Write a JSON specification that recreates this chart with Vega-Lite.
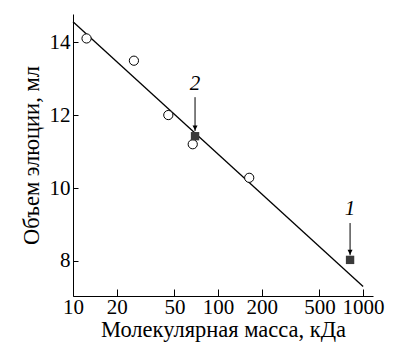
{
  "$schema": "https://vega.github.io/schema/vega-lite/v6.json",
  "width": 300,
  "height": 282,
  "autosize": "none",
  "padding": {"left": 73, "top": 14, "right": 28, "bottom": 55},
  "background": "white",
  "config": {
    "view": {"stroke": null},
    "font": "Liberation Serif",
    "axis": {"domainColor": "black", "tickColor": "black", "labelColor": "black", "titleColor": "black", "grid": false, "labelFont": "Liberation Serif", "titleFont": "Liberation Serif", "titleFontWeight": "normal", "labelFontSize": 21, "titleFontSize": 22.5}
  },
  "datasets": {
    "circles": [
      {"mass": 12.4, "volume": 14.1},
      {"mass": 26.3, "volume": 13.49},
      {"mass": 45.4, "volume": 12.0},
      {"mass": 66.9, "volume": 11.2},
      {"mass": 164, "volume": 10.28}
    ],
    "squares": [
      {"mass": 69.4, "volume": 11.42, "label": "2"},
      {"mass": 813, "volume": 8.03, "label": "1"}
    ],
    "fit": [
      {"mass": 10, "volume": 14.56},
      {"mass": 1000, "volume": 7.3}
    ],
    "arrows": [
      {"mass": 69.4, "top": 12.49, "tip": 11.56, "labelY": 12.84, "label": "2"},
      {"mass": 813, "top": 9.04, "tip": 8.16, "labelY": 9.42, "label": "1"}
    ]
  },
  "layer": [
    {
      "data": {"name": "fit"},
      "mark": {"type": "line", "color": "black", "strokeWidth": 1.3},
      "encoding": {
        "x": {"field": "mass", "type": "quantitative", "scale": {"type": "log", "domain": [10, 1170], "nice": false},
          "axis": {"title": "Молекулярная масса, кДа", "values": [10, 20, 50, 100, 200, 500, 1000], "format": "d", "tickSize": -7, "labelPadding": 7, "titlePadding": 1, "labelFlush": false}},
        "y": {"field": "volume", "type": "quantitative", "scale": {"domain": [7.04, 14.77], "nice": false, "zero": false},
          "axis": {"title": "Объем элюции, мл", "values": [8, 10, 12, 14], "tickSize": -5, "labelPadding": 8, "titlePadding": 6}}
      }
    },
    {
      "data": {"name": "circles"},
      "mark": {"type": "point", "shape": "circle", "filled": true, "fill": "white", "stroke": "black", "strokeWidth": 1, "size": 85, "opacity": 1},
      "encoding": {
        "x": {"field": "mass", "type": "quantitative"},
        "y": {"field": "volume", "type": "quantitative"}
      }
    },
    {
      "data": {"name": "squares"},
      "mark": {"type": "point", "shape": "square", "filled": true, "color": "#3a3a3a", "size": 70, "opacity": 1},
      "encoding": {
        "x": {"field": "mass", "type": "quantitative"},
        "y": {"field": "volume", "type": "quantitative"}
      }
    },
    {
      "data": {"name": "arrows"},
      "mark": {"type": "rule", "color": "black", "strokeWidth": 1},
      "encoding": {
        "x": {"field": "mass", "type": "quantitative"},
        "y": {"field": "top", "type": "quantitative"},
        "y2": {"field": "tip"}
      }
    },
    {
      "data": {"name": "arrows"},
      "mark": {"type": "point", "shape": "M-1,-1L1,-1L0,1Z", "filled": true, "color": "black", "size": 25, "opacity": 1, "yOffset": -3},
      "encoding": {
        "x": {"field": "mass", "type": "quantitative"},
        "y": {"field": "tip", "type": "quantitative"}
      }
    },
    {
      "data": {"name": "arrows"},
      "mark": {"type": "text", "fontSize": 21, "font": "Liberation Serif", "fontStyle": "italic", "color": "black", "baseline": "middle", "align": "center"},
      "encoding": {
        "x": {"field": "mass", "type": "quantitative"},
        "y": {"field": "labelY", "type": "quantitative"},
        "text": {"field": "label"}
      }
    }
  ]
}
